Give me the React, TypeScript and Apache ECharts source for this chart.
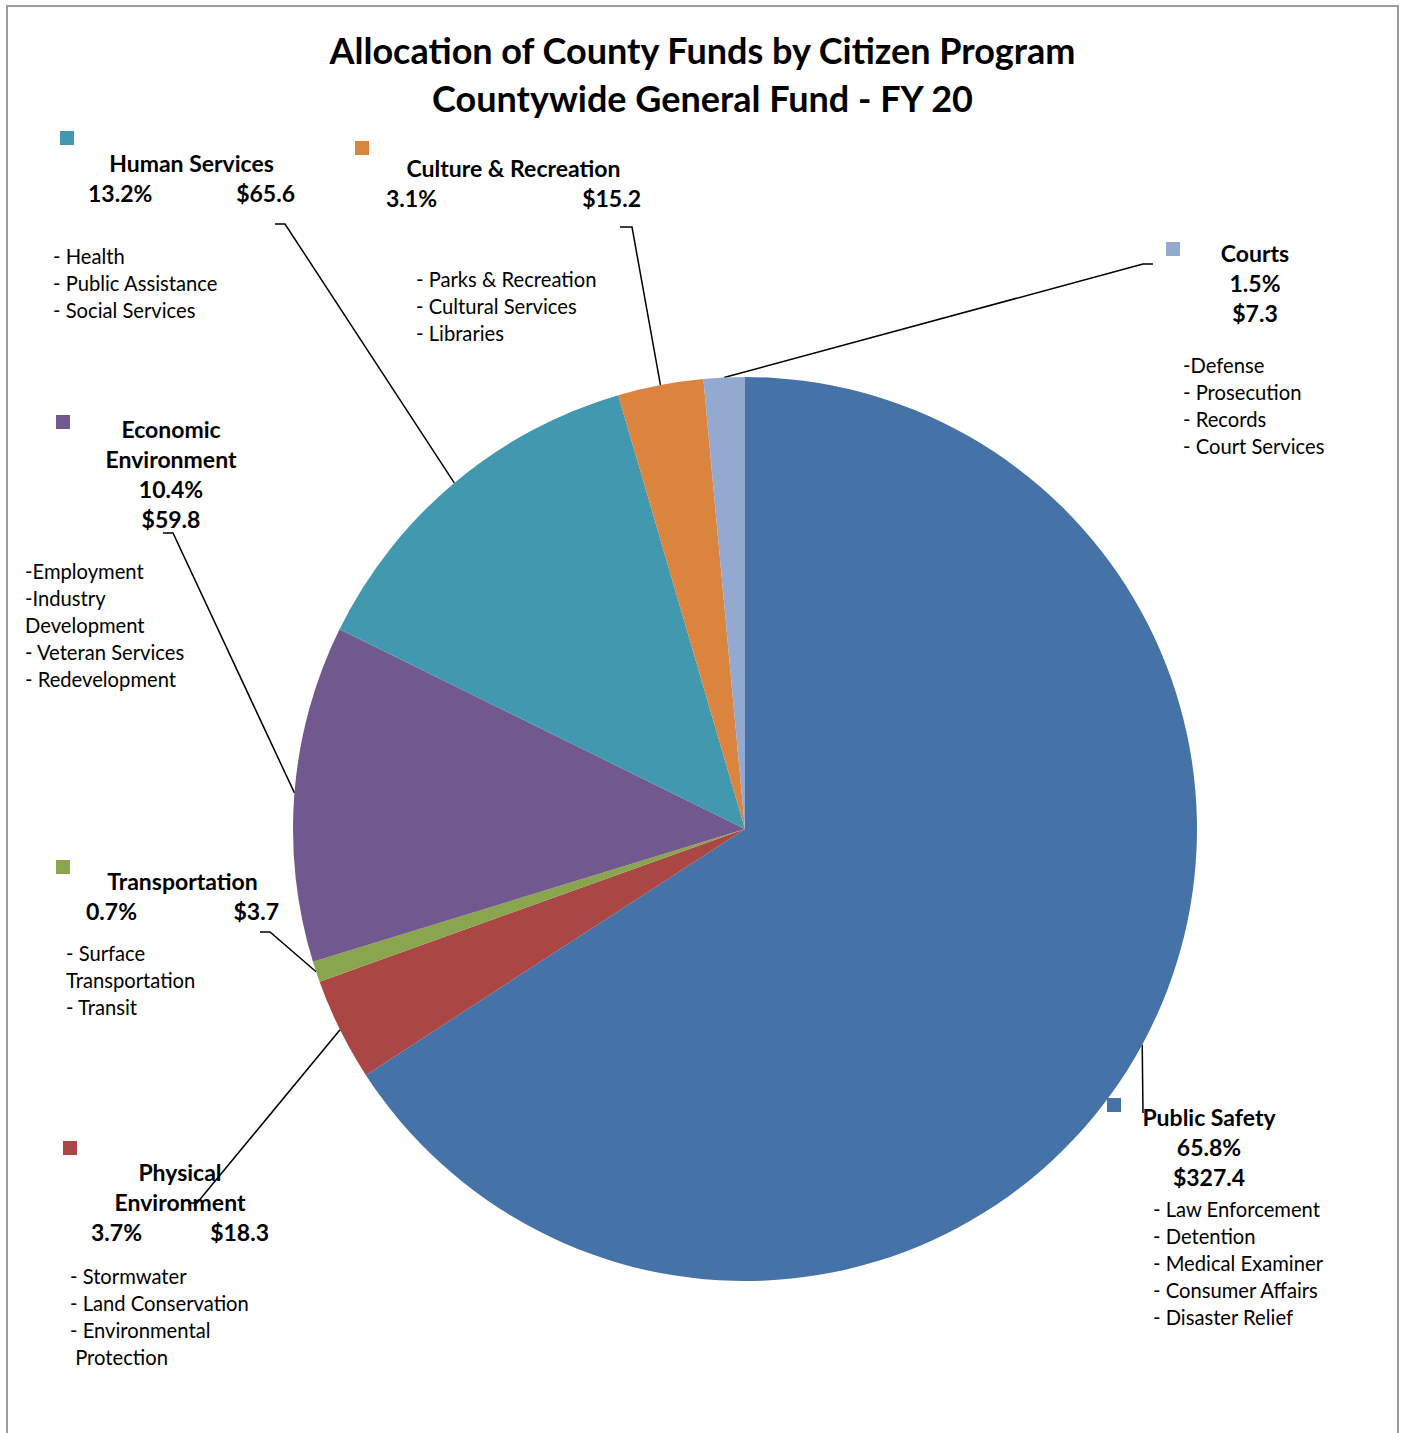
import React, { useEffect, useRef } from 'react';
import * as echarts from 'echarts';

// ---------- data ----------
const categories = [
  'Public Safety',
  'Physical Environment',
  'Transportation',
  'Economic Environment',
  'Human Services',
  'Culture & Recreation',
  'Courts',
];
const values = [327.4, 18.3, 3.7, 59.8, 65.6, 15.2, 7.3];
const percentLabels = ['65.8%', '3.7%', '0.7%', '10.4%', '13.2%', '3.1%', '1.5%'];
const titleLines: string[][] = [
  ['Public Safety'],
  ['Physical', 'Environment'],
  ['Transportation'],
  ['Economic', 'Environment'],
  ['Human Services'],
  ['Culture & Recreation'],
  ['Courts'],
];
const programLists: string[][] = [
  ['- Law Enforcement', '- Detention', '- Medical Examiner', '- Consumer Affairs', '- Disaster Relief'],
  ['- Stormwater', '- Land Conservation', '- Environmental', ' Protection'],
  ['- Surface', 'Transportation', '- Transit'],
  ['-Employment', '-Industry', 'Development', '- Veteran Services', '- Redevelopment'],
  ['- Health', '- Public Assistance', '- Social Services'],
  ['- Parks & Recreation', '- Cultural Services', '- Libraries'],
  ['-Defense', '- Prosecution', '- Records', '- Court Services'],
];
const chartTitle = ['Allocation of County Funds by Citizen Program', 'Countywide General Fund - FY 20'];

// ---------- styles / layout ----------
const COLORS = ['#4572A7', '#AA4643', '#89A54E', '#71588F', '#4198AF', '#DB843D', '#93A9CF'];
const FONT = 'Lato';
const TITLE_SIZE = 36;
const HEAD_SIZE = 23;
const LIST_SIZE = 20.2;
const LIST_LH = 26.9;

const headerLayout = [
  { cx: 1209, cy: 1147, w: 140, stacked: true, bend: [1143, 1113], end: [1143, 1113] },
  { cx: 180, cy: 1202, w: 178, stacked: false, bend: [197, 1203], end: [188, 1203] },
  { cx: 182.5, cy: 896, w: 193, stacked: false, bend: [270, 932], end: [260, 932] },
  { cx: 171, cy: 474, w: 150, stacked: true, bend: [173, 533], end: [163, 533] },
  { cx: 191.5, cy: 178, w: 207, stacked: false, bend: [285, 224], end: [275, 224] },
  { cx: 513.5, cy: 183, w: 255, stacked: false, bend: [632, 227], end: [620, 227] },
  { cx: 1255, cy: 283, w: 110, stacked: true, bend: [1143, 264], end: [1153, 264] },
];
const squarePos = [[1107, 1098], [63, 1141], [56, 860], [56, 415], [60, 131], [355, 141], [1166, 242]];
const listPos = [[1153, 1209], [70, 1276], [66, 953], [25, 571], [53, 256], [416, 279], [1183, 365]];

const PIE_CENTER = [745, 829];
const PIE_RADIUS = 452;

function headerText(i: number): string {
  const h = headerLayout[i];
  const lines = titleLines[i].map((t) => `{t|${t}}`);
  const val = '$' + values[i].toFixed(1);
  if (h.stacked) {
    lines.push(`{t|${percentLabels[i]}}`);
    lines.push(`{t|${val}}`);
  } else {
    lines.push(`{p|${percentLabels[i]}}{v|${val}}`);
  }
  return lines.join('\n');
}

export default function App() {
  const ref = useRef<HTMLDivElement>(null);
  useEffect(() => {
    if (!ref.current) return;
    const chart = echarts.init(ref.current, undefined, { renderer: 'svg' });
    const headStyle = { fontFamily: FONT, fontSize: HEAD_SIZE, fontWeight: 'bold', color: '#000', lineHeight: 30 };

    const graphics: any[] = [
      {
        type: 'rect',
        shape: { x: 7, y: 6, width: 1391, height: 1460 },
        style: { fill: 'none', stroke: '#9c9c9c', lineWidth: 2 },
        silent: true,
      },
    ];
    categories.forEach((_, i) => {
      graphics.push({
        type: 'rect',
        shape: { x: squarePos[i][0], y: squarePos[i][1], width: 14, height: 14 },
        style: { fill: COLORS[i] },
        silent: true,
      });
      graphics.push({
        type: 'text',
        x: listPos[i][0],
        y: listPos[i][1] - LIST_LH / 2,
        style: {
          text: programLists[i].join('\n'),
          fontFamily: FONT,
          fontSize: LIST_SIZE,
          lineHeight: LIST_LH,
          fill: '#000',
          align: 'left',
          verticalAlign: 'top',
        },
        silent: true,
      });
    });

    chart.setOption({
      animation: false,
      backgroundColor: '#fff',
      title: {
        text: chartTitle.join('\n'),
        left: 'center',
        top: 26,
        padding: 0,
        textStyle: {
          fontFamily: FONT,
          fontSize: TITLE_SIZE,
          fontWeight: 'bold',
          color: '#000',
          lineHeight: 48,
        },
      },
      graphic: graphics,
      series: [
        {
          type: 'pie',
          center: PIE_CENTER,
          radius: PIE_RADIUS,
          startAngle: 90,
          clockwise: true,
          avoidLabelOverlap: false,
          silent: true,
          emphasis: { disabled: true },
          itemStyle: { borderWidth: 0 },
          data: categories.map((name, i) => ({
            name,
            value: values[i],
            itemStyle: { color: COLORS[i] },
            label: { formatter: headerText(i), width: headerLayout[i].w },
          })),
          label: {
            show: true,
            position: 'outside',
            overflow: 'none',
            color: '#000',
            rich: {
              t: { ...headStyle, align: 'center' },
              p: { ...headStyle, align: 'left' },
              v: { ...headStyle, align: 'right' },
            },
          },
          labelLine: {
            show: true,
            length: 10,
            length2: 10,
            lineStyle: { color: '#000', width: 1.5 },
          },
          labelLayout: (p: any) => {
            const h = headerLayout[p.dataIndex];
            let start = p.labelLinePoints && p.labelLinePoints[0];
            if (!start) start = h.bend;
            return {
              x: h.cx,
              y: h.cy,
              align: 'center',
              verticalAlign: 'middle',
              width: h.w,
              labelLinePoints: [start, h.bend, h.end],
            };
          },
        },
      ],
    });
    return () => chart.dispose();
  }, []);
  return (
    <div
      ref={ref}
      style={{ position: 'fixed', left: 0, top: 0, width: 1405, height: 1433 }}
    />
  );
}
